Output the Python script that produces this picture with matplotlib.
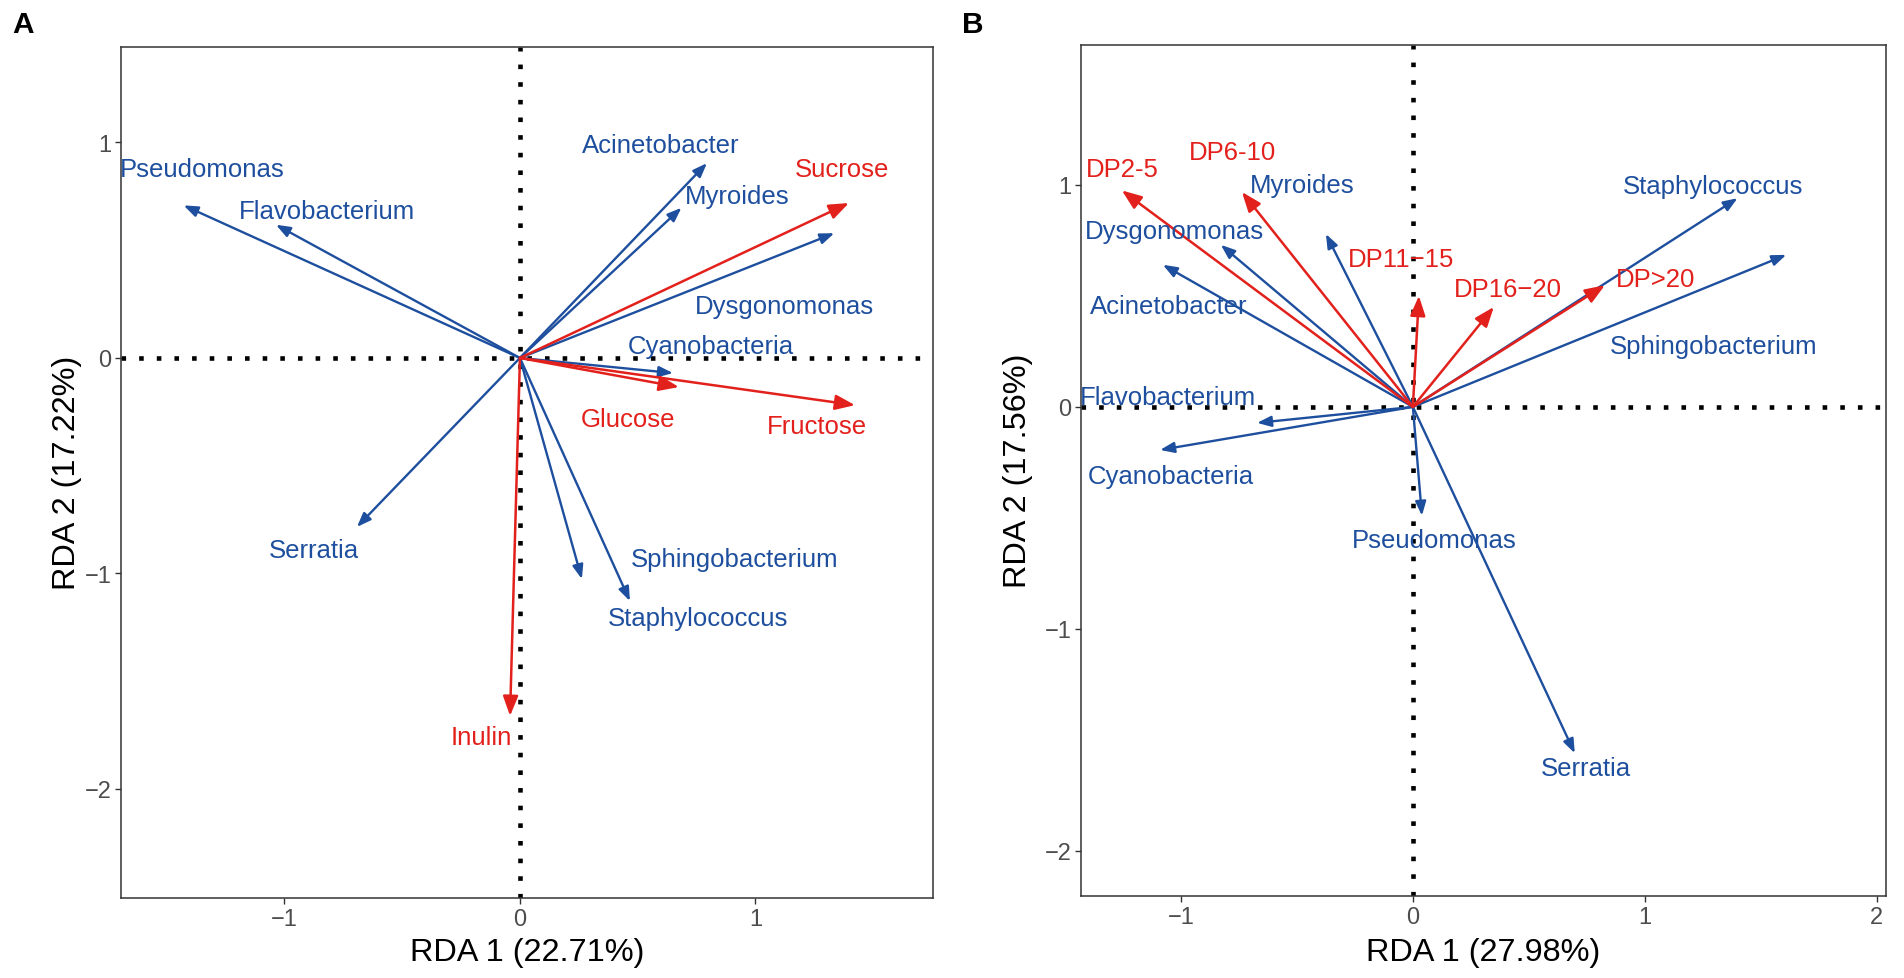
import matplotlib
matplotlib.use("Agg")
import matplotlib.pyplot as plt
from matplotlib import font_manager

plt.rcParams['font.family'] = ['Liberation Sans', 'DejaVu Sans']

_names = {f.name for f in font_manager.fontManager.ttflist}
if 'Liberation Sans Narrow' in _names:
    LABEL_FONT, LABEL_SIZE = ['Liberation Sans Narrow', 'Liberation Sans'], 22.4
else:
    LABEL_FONT, LABEL_SIZE = ['Liberation Sans', 'DejaVu Sans'], 18.5

BLUE = '#1E4F9E'
RED = '#E3211C'

# ---------------- Panel A data ----------------
a_names = ['Pseudomonas', 'Flavobacterium', 'Acinetobacter', 'Myroides', 'Dysgonomonas',
           'Cyanobacteria', 'Sphingobacterium', 'Staphylococcus', 'Serratia']
a_x = [-1.428, -1.036, 0.794, 0.686, 1.335, 0.650, 0.263, 0.467, -0.692]
a_y = [0.708, 0.618, 0.904, 0.697, 0.579, -0.070, -1.026, -1.128, -0.784]
a_lab_x = [-1.35, -0.82, 0.598, 0.923, 1.124, 0.81, 0.912, 0.758, -0.876]
a_lab_y = [0.876, 0.680, 0.989, 0.753, 0.242, 0.056, -0.933, -1.208, -0.893]

a_env = ['Sucrose', 'Glucose', 'Fructose', 'Inulin']
a_env_x = [1.397, 0.675, 1.423, -0.042]
a_env_y = [0.719, -0.135, -0.219, -1.661]
a_env_lab_x = [1.366, 0.459, 1.263, -0.165]
a_env_lab_y = [0.876, -0.281, -0.315, -1.758]

# ---------------- Panel B data ----------------
b_names = ['Myroides', 'Dysgonomonas', 'Acinetobacter', 'Staphylococcus', 'Sphingobacterium',
           'Flavobacterium', 'Cyanobacteria', 'Pseudomonas', 'Serratia']
b_x = [-0.375, -0.828, -1.078, 1.40, 1.61, -0.672, -1.09, 0.039, 0.698]
b_y = [0.779, 0.730, 0.640, 0.94, 0.685, -0.072, -0.194, -0.49, -1.56]
b_lab_x = [-0.478, -1.03, -1.052, 1.292, 1.297, -1.056, -1.043, 0.09, 0.745]
b_lab_y = [1.0, 0.793, 0.455, 0.997, 0.274, 0.045, -0.311, -0.599, -1.627]

b_env = ['DP2-5', 'DP6-10', 'DP11\u221215', 'DP16\u221220', 'DP>20']
b_env_x = [-1.255, -0.737, 0.026, 0.349, 0.828]
b_env_y = [0.975, 0.968, 0.50, 0.45, 0.548]
b_env_lab_x = [-1.254, -0.776, -0.052, 0.41, 1.047]
b_env_lab_y = [1.072, 1.149, 0.667, 0.532, 0.575]

# axis settings
a_xlim, a_ylim = (-1.694, 1.754), (-2.506, 1.443)
b_xlim, b_ylim = (-1.431, 2.04), (-2.203, 1.63)
a_xticks, a_yticks = [-1, 0, 1], [-2, -1, 0, 1]
b_xticks, b_yticks = [-1, 0, 1, 2], [-2, -1, 0, 1]
a_xlabel, a_ylabel = 'RDA 1 (22.71%)', 'RDA 2 (17.22%)'
b_xlabel, b_ylabel = 'RDA 1 (27.98%)', 'RDA 2 (17.56%)'

W, H = 1904, 979
fig = plt.figure(figsize=(W / 100, H / 100), dpi=100)

def px_axes(l, t, r, b):
    return fig.add_axes([l / W, 1 - b / H, (r - l) / W, (b - t) / H])

axA = px_axes(121, 48, 933, 899)
axB = px_axes(1081, 46, 1886, 897)

def style(ax, xlim, ylim, xt, yt):
    ax.set_xlim(*xlim)
    ax.set_ylim(*ylim)
    ax.set_xticks(xt)
    ax.set_yticks(yt)
    for s in ax.spines.values():
        s.set_color('#333333')
        s.set_linewidth(1.1)
    ax.tick_params(direction='out', length=4, width=1.0, color='#333333',
                   labelsize=17, labelcolor='#4D4D4D', pad=3)
    ax.axhline(0, color='black', lw=3.3, dashes=(1, 2.85), dash_capstyle='butt', zorder=1)
    ax.axvline(0, color='black', lw=3.3, dashes=(1, 2.85), dash_capstyle='butt', zorder=1)

def arrows(ax, xs, ys, color, lw, hl, hw):
    for x, y in zip(xs, ys):
        ax.annotate('', xy=(x, y), xytext=(0, 0),
                    arrowprops=dict(arrowstyle=f'-|>,head_length={hl},head_width={hw}',
                                    mutation_scale=20, color=color, lw=lw,
                                    shrinkA=0, shrinkB=0),
                    zorder=3)

def labels(ax, names, xs, ys, color):
    for n, x, y in zip(names, xs, ys):
        ax.text(x, y, n, color=color, fontsize=LABEL_SIZE, family=LABEL_FONT,
                ha='center', va='center', zorder=4)

style(axA, a_xlim, a_ylim, a_xticks, a_yticks)
arrows(axA, a_x, a_y, BLUE, 1.7, 0.42, 0.16)
arrows(axA, a_env_x, a_env_y, RED, 1.8, 0.6, 0.23)
labels(axA, a_names, a_lab_x, a_lab_y, BLUE)
labels(axA, a_env, a_env_lab_x, a_env_lab_y, RED)

style(axB, b_xlim, b_ylim, b_xticks, b_yticks)
arrows(axB, b_x, b_y, BLUE, 1.7, 0.42, 0.16)
arrows(axB, b_env_x, b_env_y, RED, 1.8, 0.6, 0.23)
labels(axB, b_names, b_lab_x, b_lab_y, BLUE)
labels(axB, b_env, b_env_lab_x, b_env_lab_y, RED)

# axis titles
fig.text(527 / W, 1 - 953 / H, a_xlabel, fontsize=23.4, ha='center', va='center')
fig.text(67 / W, 1 - 473 / H, a_ylabel, fontsize=23.4, ha='center', va='center', rotation=90)
fig.text(1483 / W, 1 - 953 / H, b_xlabel, fontsize=23.4, ha='center', va='center')
fig.text(1018 / W, 1 - 471 / H, b_ylabel, fontsize=23.4, ha='center', va='center', rotation=90)

# panel tags
fig.text(23 / W, 1 - 25 / H, 'A', fontsize=21.5, fontweight='bold', ha='center', va='center')
fig.text(973 / W, 1 - 25 / H, 'B', fontsize=21.5, fontweight='bold', ha='center', va='center')

fig.savefig('out.png', dpi=100)
